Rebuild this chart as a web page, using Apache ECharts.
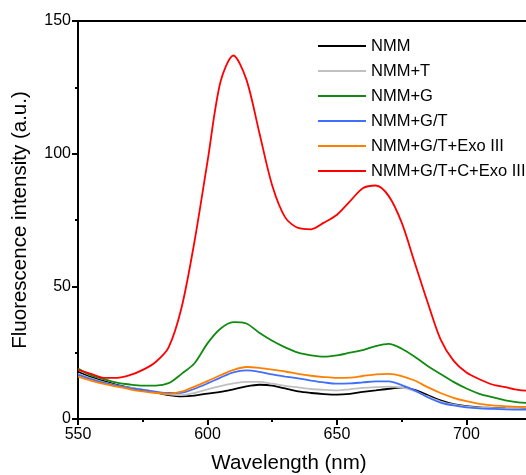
<!DOCTYPE html>
<html><head><meta charset="utf-8">
<script src="https://cdn.jsdelivr.net/npm/echarts@6/dist/echarts.min.js"></script>
<style>html,body{margin:0;padding:0;background:#fff}#c{width:526px;height:475px}</style>
</head><body><div id="c"></div>
<script>
const wavelengths = [550,555,560,565,570,575,580,585,590,595,600,605,610,615,620,625,630,635,640,645,650,655,660,665,670,675,680,685,690,695,700,705,710,715,720,725];
const nmm      = [17.8,15.8,14.3,12.9,11.8,10.8,10,9,8.5,8.8,9.6,10.2,11.2,12.3,12.9,12.6,11.5,10.4,9.8,9.4,9.2,9.5,10.2,10.8,11.4,11.8,11,9,7,5.6,4.8,4.4,4.2,4,3.9,3.8];
const nmmT     = [17,15.3,13.8,12.6,11.8,11.2,10.2,9.3,9,9.8,11.2,12.4,13.4,14,14,13.3,12.5,11.9,11.3,11,10.8,11.2,11.7,12,12.2,11.8,10.5,8.5,6.6,5.4,4.7,4.3,4.1,3.9,3.8,3.7];
const nmmG     = [19,16.5,15,13.7,13,12.6,12.6,13.5,17,21,28.5,34,36.5,36,32.5,29.5,27,25,24,23.5,24,25,26,27.5,28.3,26.5,23.5,20,17,14,11.5,9.5,8.2,7,6.3,6];
const nmmGT    = [16.7,15,13.6,12.6,11.6,11,10.3,9.8,9.9,11.4,13.4,15.6,17.6,18.3,17.8,16.8,16,15.3,14.5,13.8,13.3,13.4,13.8,14.2,14.2,12.8,10.8,8.2,6.2,5.1,4.4,4,3.8,3.6,3.5,3.5];
const nmmGTExo = [16,14.5,13.2,12.2,11.2,10.4,9.8,9.5,10.3,12.2,14.3,16.5,18.5,19.6,19.3,18.6,17.9,17,16.3,15.8,15.5,15.6,16.2,16.8,17,16.2,14.5,12,9.8,8,6.7,5.7,5.1,4.8,4.6,4.5];
const nmmGTCExo= [18.5,17,15.5,15.5,16.5,18.5,21.5,27,42,67,97,127,137,128,108,88,76,72,71.5,74,77,82,87,88,84,74,59,44,30,22,17.5,15,13,12,11,10.5];
const seriesNames = ['NMM','NMM+T','NMM+G','NMM+G/T','NMM+G/T+Exo III','NMM+G/T+C+Exo III'];
const seriesData = [nmm, nmmT, nmmG, nmmGT, nmmGTExo, nmmGTCExo];
const colors = ['#000000','#c0c0c0','#108a10','#3f6fff','#ff8000','#ff0000'];
const xMajor = [550,600,650,700];
const xMinor = [575,625,675];

const font = 'Liberation Sans, Arial, sans-serif';
const chart = echarts.init(document.getElementById('c'));
chart.setOption({
  animation:false,
  backgroundColor:'#fff',
  grid:{left:78,right:0,top:21,bottom:56,outerBoundsMode:'none',containLabel:false},
  legend:{
    left:313, top:31, orient:'vertical', itemWidth:48, itemHeight:2, icon:'rect', itemGap:5,
    textStyle:{fontFamily:font,fontSize:16.5,color:'#000',lineHeight:20},
    data:seriesNames
  },
  xAxis:[
    {type:'value',min:550,max:723,position:'bottom',
     axisLine:{show:true,onZero:false,lineStyle:{color:'#000',width:2}},
     axisTick:{show:true,length:6,customValues:xMajor,lineStyle:{color:'#000',width:2}},
     axisLabel:{customValues:xMajor,fontFamily:font,fontSize:16,color:'#000',margin:8},
     splitLine:{show:false},
     name:'Wavelength (nm)',nameLocation:'middle',nameGap:34,
     nameTextStyle:{fontFamily:font,fontSize:20.5,color:'#000',padding:[0,26,0,0]}},
    {type:'value',min:550,max:723,position:'bottom',
     axisLine:{show:false},
     axisTick:{show:true,length:3,customValues:xMinor,lineStyle:{color:'#000',width:2}},
     axisLabel:{show:false},splitLine:{show:false}},
    {type:'value',min:550,max:723,position:'top',
     axisLine:{show:true,lineStyle:{color:'#000',width:2}},
     axisTick:{show:false},axisLabel:{show:false},splitLine:{show:false}}
  ],
  yAxis:{type:'value',min:0,max:150,interval:50,
    axisLine:{show:true,lineStyle:{color:'#000',width:2}},
    axisTick:{show:true,length:6,lineStyle:{color:'#000',width:2}},
    minorTick:{show:true,splitNumber:2,length:3,lineStyle:{color:'#000',width:2}},
    axisLabel:{fontFamily:font,fontSize:16,color:'#000',margin:7},
    splitLine:{show:false},
    name:'Fluorescence intensity (a.u.)',nameLocation:'middle',nameGap:47,
    nameTextStyle:{fontFamily:font,fontSize:20.5,color:'#000'}},
  series: seriesNames.map((n,i)=>({
    name:n,type:'line',xAxisIndex:0,showSymbol:false,smooth:0.3,
    color:colors[i],lineStyle:{width:1.8,color:colors[i]},
    data: wavelengths.map((w,j)=>[w,seriesData[i][j]])
  }))
});
</script></body></html>
